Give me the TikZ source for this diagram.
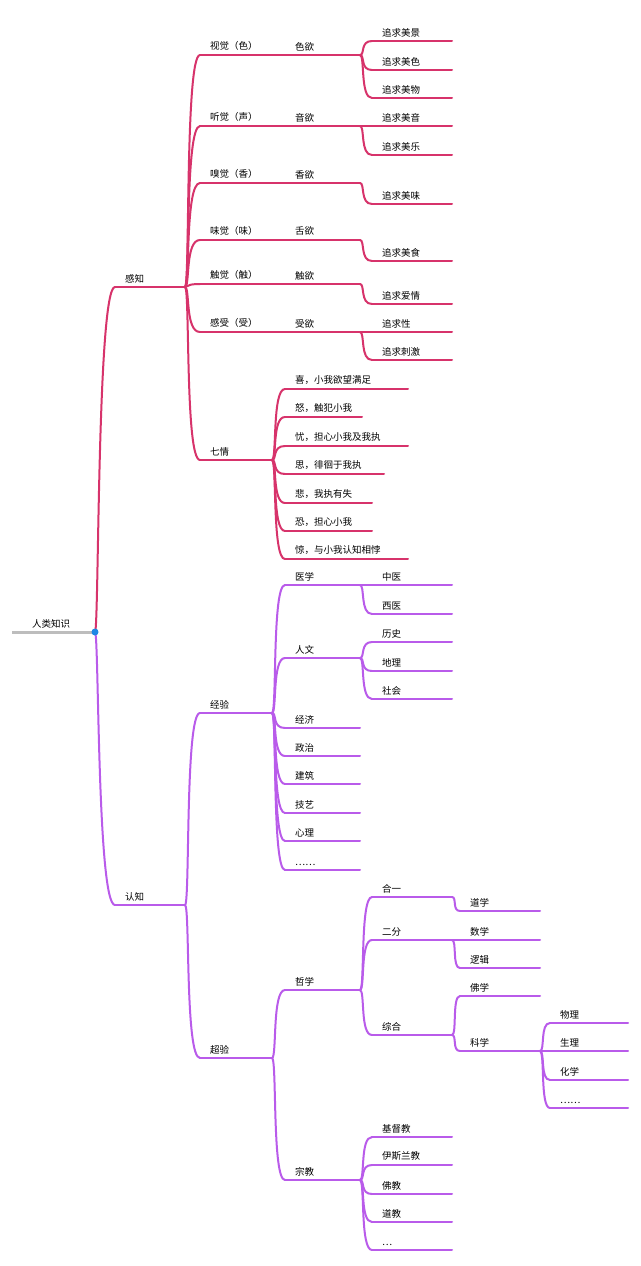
\documentclass[tikz,border=0pt]{standalone}
\usepackage{fontspec}
\setmainfont{Noto Sans CJK SC}
\usetikzlibrary{calc}
\definecolor{rd}{HTML}{D7336B}
\definecolor{pp}{HTML}{B95BEA}
\definecolor{gy}{HTML}{BDBDBD}
\definecolor{bl}{HTML}{1E88E5}
\tikzset{lbl/.style={anchor=south west,inner sep=2pt,xshift=8pt,yshift=2pt,font=\fontsize{9.5pt}{11pt}\selectfont},
 R/.style={draw=rd,line width=2pt,line cap=round},
 P/.style={draw=pp,line width=2pt,line cap=round}}
\newcommand\nd[6]{\coordinate (#1s) at (#2,#4); \coordinate (#1e) at (#3,#4); \draw[#6] (#1s)--(#1e); \node[lbl] (#1) at (#2,#4) {#5};}
\newcommand\cn[3]{\draw[#3] (#1e) .. controls ($(#1e)+(5,0)$) and (#1e |- #2s) .. (#2s);}
\begin{document}
\begin{tikzpicture}[x=1pt,y=-1pt]
\useasboundingbox[fill=white] (0,0) rectangle (640,1266);
% root
\coordinate (rs) at (12,632); \coordinate (re) at (95,632);
\draw[gy,line width=3pt] (rs)--(re);
\node[lbl,xshift=10pt] (root) at (12,632) {人类知识};
% level1
\nd{gz}{115}{185}{287}{感知}{R}
\nd{rz}{115}{185}{905}{认知}{P}
\draw[R] (re) .. controls (99,632) and (97,287) .. (gzs);
\draw[P] (re) .. controls (99,632) and (97,905) .. (rzs);
\fill[bl] (re) circle (3.5);
% 感知 children
\nd{a1}{200}{285}{55}{视觉（色）}{R}
\nd{a2}{200}{285}{126}{听觉（声）}{R}
\nd{a3}{200}{285}{183}{嗅觉（香）}{R}
\nd{a4}{200}{285}{240}{味觉（味）}{R}
\nd{a5}{200}{285}{284}{触觉（触）}{R}
\nd{a6}{200}{285}{332}{感受（受）}{R}
\nd{a7}{200}{272}{460}{七情}{R}
\foreach \i in {1,...,7}{\cn{gz}{a\i}{R}}
\nd{b1}{285}{360}{55}{色欲}{R}
\nd{b2}{285}{360}{126}{音欲}{R}
\nd{b3}{285}{360}{183}{香欲}{R}
\nd{b4}{285}{360}{240}{舌欲}{R}
\nd{b5}{285}{360}{284}{触欲}{R}
\nd{b6}{285}{360}{332}{受欲}{R}
\nd{c1}{372}{452}{41}{追求美景}{R}
\nd{c2}{372}{452}{70}{追求美色}{R}
\nd{c3}{372}{452}{98}{追求美物}{R}
\nd{c4}{372}{452}{126}{追求美音}{R}
\nd{c5}{372}{452}{155}{追求美乐}{R}
\nd{c6}{372}{452}{204}{追求美味}{R}
\nd{c7}{372}{452}{261}{追求美食}{R}
\nd{c8}{372}{452}{304}{追求爱情}{R}
\nd{c9}{372}{452}{332}{追求性}{R}
\nd{c10}{372}{452}{360}{追求刺激}{R}
\cn{b1}{c1}{R}\cn{b1}{c2}{R}\cn{b1}{c3}{R}
\cn{b2}{c4}{R}\cn{b2}{c5}{R}
\cn{b3}{c6}{R}\cn{b4}{c7}{R}\cn{b5}{c8}{R}
\cn{b6}{c9}{R}\cn{b6}{c10}{R}
\nd{q1}{285}{408}{389}{喜，小我欲望满足}{R}
\nd{q2}{285}{362}{417}{怒，触犯小我}{R}
\nd{q3}{285}{408}{446}{忧，担心小我及我执}{R}
\nd{q4}{285}{384}{474}{思，徘徊于我执}{R}
\nd{q5}{285}{372}{503}{悲，我执有失}{R}
\nd{q6}{285}{372}{531}{恐，担心小我}{R}
\nd{q7}{285}{408}{559}{惊，与小我认知相悖}{R}
\foreach \i in {1,...,7}{\cn{a7}{q\i}{R}}
% 认知
\nd{e}{200}{272}{713}{经验}{P}
\nd{t}{200}{272}{1058}{超验}{P}
\cn{rz}{e}{P}\cn{rz}{t}{P}
\nd{e1}{285}{360}{585}{医学}{P}
\nd{e2}{285}{360}{658}{人文}{P}
\nd{e3}{285}{360}{728}{经济}{P}
\nd{e4}{285}{360}{756}{政治}{P}
\nd{e5}{285}{360}{784}{建筑}{P}
\nd{e6}{285}{360}{813}{技艺}{P}
\nd{e7}{285}{360}{841}{心理}{P}
\nd{e8}{285}{360}{870}{……}{P}
\foreach \i in {1,...,8}{\cn{e}{e\i}{P}}
\nd{f1}{372}{452}{585}{中医}{P}
\nd{f2}{372}{452}{614}{西医}{P}
\nd{f3}{372}{452}{642}{历史}{P}
\nd{f4}{372}{452}{671}{地理}{P}
\nd{f5}{372}{452}{699}{社会}{P}
\cn{e1}{f1}{P}\cn{e1}{f2}{P}
\cn{e2}{f3}{P}\cn{e2}{f4}{P}\cn{e2}{f5}{P}
\nd{t1}{285}{360}{990}{哲学}{P}
\nd{t2}{285}{360}{1180}{宗教}{P}
\cn{t}{t1}{P}\cn{t}{t2}{P}
\nd{h1}{372}{452}{897}{合一}{P}
\nd{h2}{372}{452}{940}{二分}{P}
\nd{h3}{372}{452}{1035}{综合}{P}
\cn{t1}{h1}{P}\cn{t1}{h2}{P}\cn{t1}{h3}{P}
\nd{i1}{460}{540}{911}{道学}{P}
\nd{i2}{460}{540}{940}{数学}{P}
\nd{i3}{460}{540}{968}{逻辑}{P}
\nd{i4}{460}{540}{996}{佛学}{P}
\nd{i5}{460}{540}{1051}{科学}{P}
\cn{h1}{i1}{P}\cn{h2}{i2}{P}\cn{h2}{i3}{P}\cn{h3}{i4}{P}\cn{h3}{i5}{P}
\nd{j1}{550}{628}{1023}{物理}{P}
\nd{j2}{550}{628}{1051}{生理}{P}
\nd{j3}{550}{628}{1080}{化学}{P}
\nd{j4}{550}{628}{1108}{……}{P}
\foreach \i in {1,...,4}{\cn{i5}{j\i}{P}}
\nd{k1}{372}{452}{1137}{基督教}{P}
\nd{k2}{372}{452}{1165}{伊斯兰教}{P}
\nd{k3}{372}{452}{1194}{佛教}{P}
\nd{k4}{372}{452}{1222}{道教}{P}
\nd{k5}{372}{452}{1250}{…}{P}
\foreach \i in {1,...,5}{\cn{t2}{k\i}{P}}
\end{tikzpicture}
\end{document}
